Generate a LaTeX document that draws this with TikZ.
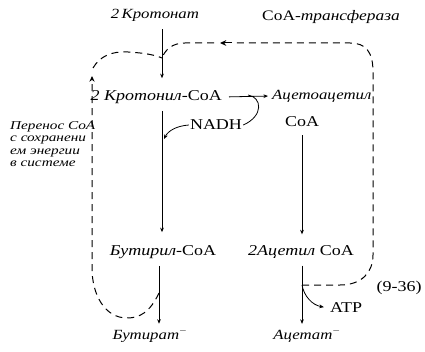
\documentclass[tikz,border=0pt]{standalone}
\usepackage{fontspec}
\setmainfont{Liberation Serif}[FakeStretch=1.2]
\newfontfamily\notefont{Liberation Serif}[FakeStretch=1.27]
\usetikzlibrary{arrows.meta}

\begin{document}
\begin{tikzpicture}[x=1pt,y=-1pt,>={Stealth[length=1.6mm,width=1.3mm]},
  lbl/.style={font=\itshape\fontsize{14}{14}\selectfont,inner sep=1pt},
  chem/.style={font=\fontsize{15}{15}\selectfont,inner sep=1pt},
  note/.style={font=\notefont\itshape\fontsize{12}{12.5}\selectfont,inner sep=0pt,align=left},
  rxn/.style={line width=0.8pt},
  coaline/.style={line width=1pt,dash pattern=on 7pt off 5pt}]
\useasboundingbox (0,0) rectangle (425,352);
\coordinate (jTop) at (162,58);
\coordinate (jBu) at (159,293);
\coordinate (jAc) at (302,285);
\coordinate (jNad) at (248,95);
\coordinate (tipNad) at (164,139);
\node[lbl] (kroton) at (155,15) {2\,Кротонат};
\node[chem,anchor=west,font=\fontsize{14.5}{14.5}\selectfont] (trans) at (261,17) {CoA\textit{-трансфераза}};
\node[chem,anchor=east] (krotonil) at (223,97) {\textit{2 Кротонил-}CoA};
\node[lbl,anchor=west] (acetoacetyl) at (271,96) {Ацетоацетил};
\node[chem] (acCoA) at (302,122) {CoA};
\node[chem] (nadh) at (216,125) {NADH};
\node[chem] (butyryl) at (163,252) {\textit{Бутирил-}CoA};
\node[chem] (acetyl) at (301,252) {\textit{2Ацетил} CoA};
\node[lbl] (butyrate) at (150,335) {Бутират$^-$};
\node[lbl] (acetate) at (307,335) {Ацетат$^-$};
\node[chem] (atp) at (346,308) {ATP};
\node[chem] (eq) at (399,288) {(9-36)};
\node[note,anchor=north west] (transfer) at (10,121) {Перенос CoA\\с сохранени\\ем энергии\\в системе};
\draw[rxn,->,shorten <=7pt,shorten >=11pt] (kroton.south -| jTop) -- (krotonil.north -| jTop);
\draw[rxn,->,shorten <=6pt,shorten >=12pt] (krotonil.south -| jTop) -- (butyryl.north -| jTop);
\draw[rxn,->,shorten <=6pt,shorten >=3pt] (krotonil.east) -- (acetoacetyl.west);
\draw[rxn] (jNad) .. controls (262,97) and (264,116) .. (nadh.east);
\draw[rxn,->] (nadh.west) .. controls (176,126) and (168,131) .. (tipNad);
\draw[rxn,->,shorten <=7pt,shorten >=10pt] (acCoA.south -| jAc) -- (acetyl.north -| jAc);
\draw[rxn,->,shorten <=6pt,shorten >=3pt] (butyryl.south -| jBu) -- (butyrate.north -| jBu);
\draw[rxn,->,shorten <=6pt,shorten >=3pt] (acetyl.south -| jAc) -- (acetate.north -| jAc);
\draw[rxn,->,shorten >=5pt] (jAc) .. controls (304,296) and (312,305) .. (atp.west);
\draw[coaline] (jAc) -- (340,285) .. controls (362,285) and (373,272) .. (373,255) -- (373,72) .. controls (373,52) and (366,43) .. (350,43) -- (236,43);
\draw[line width=1pt,-{Stealth[length=2.2mm,width=2mm]}] (232,43) -- (220,43);
\draw[coaline] (214,43) -- (185,43) .. controls (172,43) and (165,50) .. (jTop);
\draw[coaline,-{Stealth[length=2mm,width=1.8mm]}] (jBu) .. controls (150,312) and (140,318) .. (127,318) .. controls (105,318) and (92,295) .. (92,268) -- (92,76);
\draw[coaline] (93,68) .. controls (100,56) and (112,51) .. (128,52) .. controls (145,53) and (155,55) .. (jTop);
\end{tikzpicture}
\end{document}
